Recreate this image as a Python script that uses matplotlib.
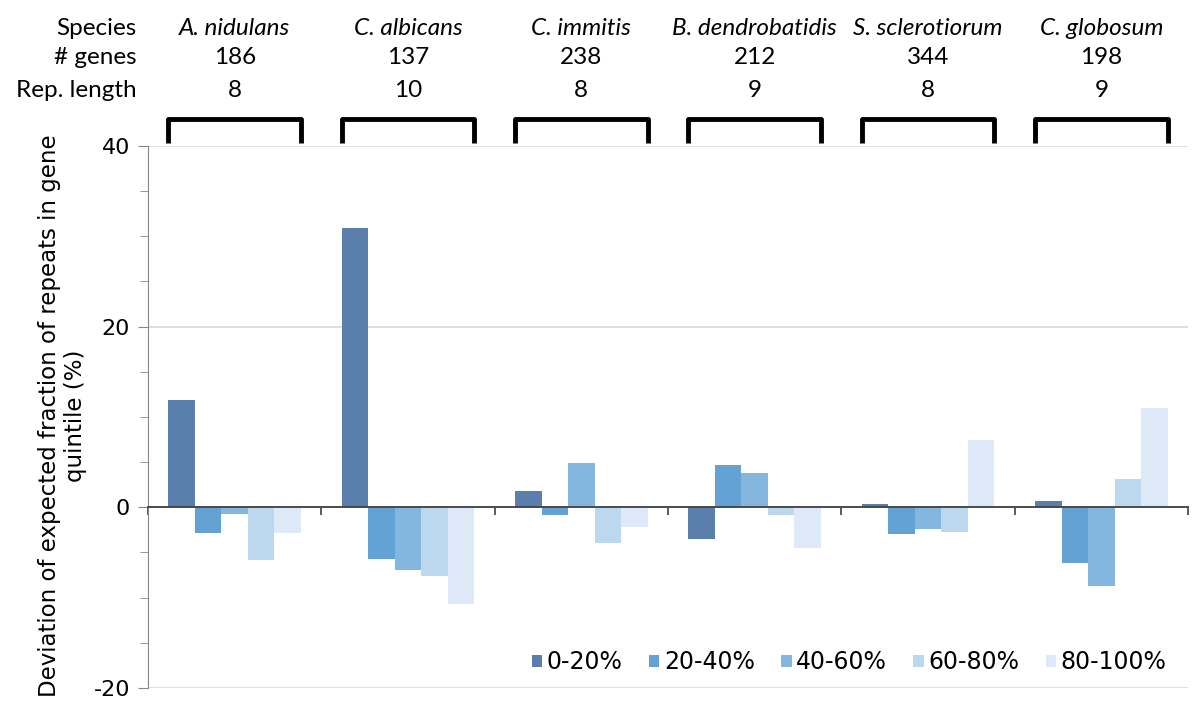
import numpy as np
import matplotlib
matplotlib.use("Agg")
import matplotlib.pyplot as plt
from matplotlib.transforms import blended_transform_factory

species = ["A. nidulans", "C. albicans", "C. immitis", "B. dendrobatidis", "S. sclerotiorum", "C. globosum"]
n_genes = ["186", "137", "238", "212", "344", "198"]
rep_len = ["8", "10", "8", "9", "8", "9"]
quintiles = ["0-20%", "20-40%", "40-60%", "60-80%", "80-100%"]

# deviation per quintile, one list per quintile (order of species)
q1 = [11.9, 30.9, 1.85, -3.5, 0.4, 0.65]
q2 = [-2.8, -5.75, -0.85, 4.7, -3.0, -6.2]
q3 = [-0.75, -6.95, 4.95, 3.75, -2.45, -8.7]
q4 = [-5.85, -7.6, -3.9, -0.8, -2.7, 3.1]
q5 = [-2.8, -10.65, -2.2, -4.45, 7.45, 10.95]
colors = ["#5a7fad", "#64a2d3", "#84b7e0", "#bcd8ef", "#dde9f6"]

fig = plt.figure(figsize=(12, 7.22), dpi=100)
ax = fig.add_axes([0.1233, 0.0471, 0.8667, 0.7507])

w = 0.153
x = np.arange(len(species)) + 0.5
for k, vals in enumerate([q1, q2, q3, q4, q5]):
    ax.bar(x + (k - 2) * w, vals, width=w, color=colors[k], label=quintiles[k], zorder=3)

ax.set_xlim(0, 6)
ax.set_ylim(-20, 40)
ax.set_yticks([-20, 0, 20, 40])
ax.set_yticks(np.arange(-20, 41, 5), minor=True)
ax.set_yticklabels(["-20", "0", "20", "40"], fontsize=16)
ax.yaxis.grid(True, color="#d9d9d9", lw=1.2, zorder=0)
ax.tick_params(axis="y", which="major", direction="out", length=7, color="#868686", pad=6)
ax.tick_params(axis="y", which="minor", direction="out", length=6, color="#868686")

ax.spines["top"].set_visible(False)
ax.spines["right"].set_visible(False)
ax.spines["left"].set_color("#868686")
ax.spines["bottom"].set_position(("data", 0))
ax.spines["bottom"].set_color("#404040")
ax.spines["bottom"].set_linewidth(1.3)
ax.spines["bottom"].set_zorder(4)
ax.set_xticks(np.arange(0, 7))
ax.set_xticklabels([])
ax.tick_params(axis="x", direction="out", length=6, color="#404040", width=1.2)

# header rows
tr = blended_transform_factory(ax.transData, fig.transFigure)
hdr_font = dict(family="Lato", fontsize=17.5)
rows_y = [0.961, 0.921, 0.875]
for txt, yy in zip(["Species", "# genes", "Rep. length"], rows_y):
    fig.text(0.114, yy, txt, ha="right", va="center", **hdr_font)
for i in range(len(species)):
    ax.text(x[i], rows_y[0], species[i], transform=tr, ha="center", va="center", style="italic", **hdr_font)
    ax.text(x[i], rows_y[1], n_genes[i], transform=tr, ha="center", va="center", **hdr_font)
    ax.text(x[i], rows_y[2], rep_len[i], transform=tr, ha="center", va="center", **hdr_font)
    x0 = x[i] - 2.5 * w
    x1 = x[i] + 2.5 * w
    ax.plot([x0, x0, x1, x1], [40.3, 43.0, 43.0, 40.3], color="black", lw=3.5,
            clip_on=False, solid_joinstyle="round", solid_capstyle="butt", zorder=5)

fig.text(0.052, 0.424, "Deviation of expected fraction of repeats in gene\nquintile (%)",
         rotation=90, ha="center", va="center", multialignment="center", fontsize=16.5)

ax.legend(loc="lower right", ncol=5, frameon=False, fontsize=17, handlelength=0.45,
          handleheight=0.45, handletextpad=0.2, columnspacing=1.1,
          bbox_to_anchor=(1.0, -0.014))

fig.savefig("out.png", dpi=100)
